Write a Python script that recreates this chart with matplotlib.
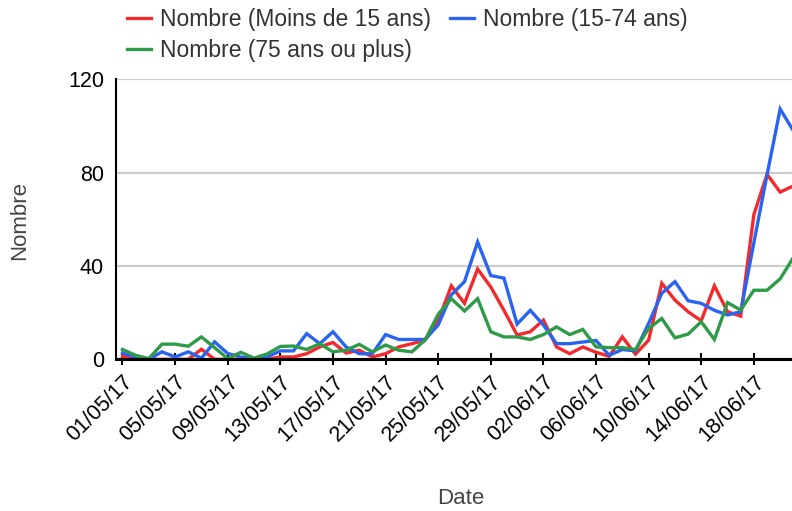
import numpy as np
import pandas as pd
import matplotlib
matplotlib.use("Agg")
import matplotlib.pyplot as plt

plt.rcParams["font.family"] = ["Liberation Sans", "DejaVu Sans"]

# Daily counts from 01/05/17 to 21/06/17
start_date = "2017-05-01"
moins_15 = [1.3, 0, 0, 0, 0, 0, 4.3, 0, 0, 0, 0, 0, 1, 1, 2.4, 5.3, 7.2, 2.7, 3.9, 1,
            2.4, 5.3, 6.7, 8.2, 16.5, 31.5, 24, 38.7, 31, 21, 10.4, 11.8, 16.8, 5.3, 2.4, 5.3,
            3, 1.3, 9.6, 2.2, 8.2, 32.6, 25.4, 20.4, 16.5, 31.5, 20.4, 18.5, 62, 79.3, 71.7, 74.3]
de_15_74 = [2.7, 1, 0, 3.2, 1, 3.2, 0.5, 7.5, 2.5, 1, 0, 1, 3.6, 3.6, 11, 6.7, 11.8, 5.3, 2.4, 2.4,
            10.6, 8.5, 8.5, 8.5, 14.7, 27.6, 33.3, 50.3, 35.9, 34.8, 15.1, 21, 14.7, 6.7, 6.7, 7.4,
            8.1, 1.7, 4.2, 3.6, 15.4, 28.3, 33.3, 25.1, 24, 21, 19, 20.4, 50, 79, 107.3, 98]
plus_75 = [4.2, 1.7, 0.3, 6.5, 6.5, 5.6, 9.6, 5, 0.3, 3, 0.5, 2.3, 5.5, 5.7, 4.2, 6.7, 3.2, 3.9, 6.4, 3.2,
           6.1, 3.9, 3.2, 8.2, 19.3, 26, 20.7, 26, 11.8, 9.6, 9.6, 8.5, 10.6, 13.9, 10.6, 12.8,
           5.3, 5, 5, 4.2, 13.2, 17.5, 9.2, 10.8, 16.1, 8.5, 24.3, 21.1, 29.6, 29.6, 34.5, 43.6]
labels = ["Nombre (Moins de 15 ans)", "Nombre (15-74 ans)", "Nombre (75 ans ou plus)"]
colors = ["#f32a2d", "#2a63ef", "#2f9a48"]

dates = pd.date_range(start_date, periods=len(moins_15), freq="D")
day = np.arange(len(dates))

fig = plt.figure(figsize=(7.92, 5.11), dpi=100)
ax = fig.add_axes([116.5 / 792, 1 - 359.3 / 511, 1 - 116.5 / 792, (359.3 - 79.4) / 511])

lines = []
for series, lab, col in zip([moins_15, de_15_74, plus_75], labels, colors):
    ln, = ax.plot(day, series, color=col, lw=2.4, label=lab, solid_joinstyle="miter")
    lines.append(ln)

ax.set_xlim(-0.456, 50.9)
ax.set_ylim(0, 120)
ax.set_yticks([0, 40, 80, 120])
ax.grid(axis="y", color="#cccccc", lw=1.6)
ax.set_axisbelow(True)

ticks = day[::4]
ax.set_xticks(ticks)
ax.set_xticklabels([d.strftime("%d/%m/%y") for d in dates[::4]], rotation=45,
                   ha="right", va="top", rotation_mode="anchor")
ax.tick_params(axis="x", direction="inout", length=9, width=1.5, pad=4, labelsize=15.5)
ax.tick_params(axis="y", length=0, pad=9, labelsize=15.5)
for lbl in ax.get_yticklabels():
    lbl.set_va("center_baseline")

for side in ["top", "right"]:
    ax.spines[side].set_visible(False)
ax.spines["bottom"].set_linewidth(2.2)
ax.spines["left"].set_linewidth(1.5)

fig.text(20 / 792, 1 - 220 / 511, "Nombre", rotation=90, ha="center", va="center",
         fontsize=16, color="#444444")
fig.text(461 / 792, 1 - 498 / 511, "Date", ha="center", va="center", fontsize=16, color="#444444")

# column-major fill: red/green in column 1, blue in column 2
fig.legend([lines[0], lines[2], lines[1]], [labels[0], labels[2], labels[1]],
           ncol=2, loc="upper left", bbox_to_anchor=(127 / 792, 0.985), frameon=False,
           fontsize=16.5, handlelength=1.05, handletextpad=0.4, columnspacing=0.8,
           labelspacing=0.38, borderpad=0, borderaxespad=0, labelcolor="#333333")

fig.savefig("out.png", dpi=100)
